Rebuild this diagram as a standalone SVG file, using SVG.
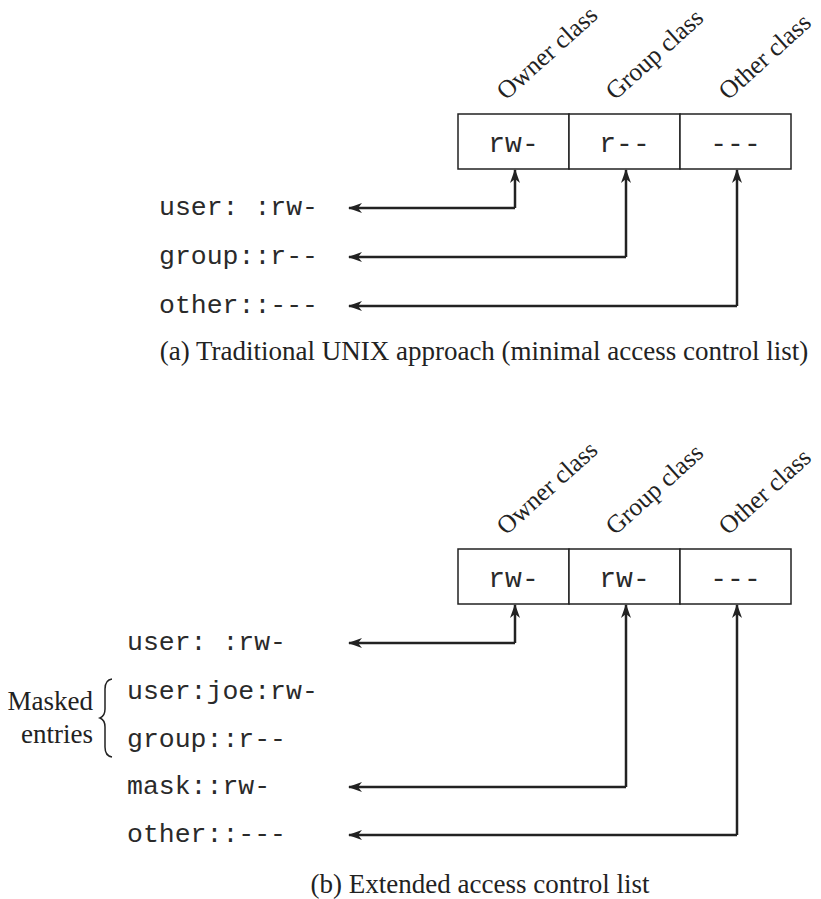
<svg xmlns="http://www.w3.org/2000/svg" width="821" height="899" viewBox="0 0 821 899">
<style>
.mono{font-family:"Liberation Mono","Courier New",monospace;font-size:26.5px;fill:#2a2a2a}
.cell{font-family:"Liberation Mono","Courier New",monospace;font-size:28px;fill:#2a2a2a}
.serif{font-family:"Liberation Serif","Times New Roman",serif;font-size:27px;fill:#222}
.rot{font-family:"Liberation Serif","Times New Roman",serif;font-size:25.5px;fill:#222}
.box{fill:#fff;stroke:#222;stroke-width:1.5}
.conn{fill:none;stroke:#222;stroke-width:2.5}
</style>
<defs>
<marker id="ah" viewBox="0 0 14 10" refX="13" refY="5" markerWidth="14" markerHeight="10" markerUnits="userSpaceOnUse" orient="auto">
<path d="M0,0 L14,5 L0,10 L4,5 Z" fill="#222"/>
</marker>
</defs>
<rect width="821" height="899" fill="#fff"/>

<g id="part-a">
<g id="a-header">
<text class="rot" transform="translate(506,101) rotate(-42)">Owner class</text>
<text class="rot" transform="translate(615,101) rotate(-42)">Group class</text>
<text class="rot" transform="translate(728,101) rotate(-42)">Other class</text>
</g>
<g id="a-box">
<rect class="box" x="458" y="114" width="111" height="55"/>
<rect class="box" x="569" y="114" width="111" height="55"/>
<rect class="box" x="680" y="114" width="111" height="55"/>
<text class="cell" x="513.5" y="152" text-anchor="middle">rw-</text>
<text class="cell" x="624.5" y="152" text-anchor="middle">r--</text>
<text class="cell" x="735.5" y="152" text-anchor="middle">---</text>
</g>
<g id="a-entries">
<text class="mono" x="159" y="215">user: :rw-</text>
<text class="mono" x="159" y="264">group::r--</text>
<text class="mono" x="159" y="313">other::---</text>
</g>
<text id="a-caption" class="serif" x="484" y="360" text-anchor="middle">(a) Traditional UNIX approach (minimal access control list)</text>
</g>

<g id="part-b">
<g id="b-header">
<text class="rot" transform="translate(506,536) rotate(-42)">Owner class</text>
<text class="rot" transform="translate(615,536) rotate(-42)">Group class</text>
<text class="rot" transform="translate(728,536) rotate(-42)">Other class</text>
</g>
<g id="b-box">
<rect class="box" x="458" y="549" width="111" height="55"/>
<rect class="box" x="569" y="549" width="111" height="55"/>
<rect class="box" x="680" y="549" width="111" height="55"/>
<text class="cell" x="513.5" y="587" text-anchor="middle">rw-</text>
<text class="cell" x="624.5" y="587" text-anchor="middle">rw-</text>
<text class="cell" x="735.5" y="587" text-anchor="middle">---</text>
</g>
<g id="b-entries">
<text class="mono" x="127" y="650">user: :rw-</text>
<text class="mono" x="127" y="699">user:joe:rw-</text>
<text class="mono" x="127" y="747">group::r--</text>
<text class="mono" x="127" y="794">mask::rw-</text>
<text class="mono" x="127" y="842">other::---</text>
</g>
<g id="b-masked">
<text class="serif" x="93" y="710" text-anchor="end">Masked</text>
<text class="serif" x="93" y="743" text-anchor="end">entries</text>
<path d="M112,679 Q105,680 105,689 L105,709 Q105,716 100,718 Q105,720 105,727 L105,747 Q105,756 112,757" fill="none" stroke="#222" stroke-width="1.5"/>
</g>
<text id="b-caption" class="serif" x="480" y="893" text-anchor="middle">(b) Extended access control list</text>
</g>

<g id="connectors">
<path class="conn" d="M515,208 L515,170" marker-end="url(#ah)"/>
<path class="conn" d="M515,208 L349,208" marker-end="url(#ah)"/>
<path class="conn" d="M626,257 L626,170" marker-end="url(#ah)"/>
<path class="conn" d="M626,257 L349,257" marker-end="url(#ah)"/>
<path class="conn" d="M737,306 L737,170" marker-end="url(#ah)"/>
<path class="conn" d="M737,306 L349,306" marker-end="url(#ah)"/>

<path class="conn" d="M515,643 L515,605" marker-end="url(#ah)"/>
<path class="conn" d="M515,643 L349,643" marker-end="url(#ah)"/>
<path class="conn" d="M626,787 L626,605" marker-end="url(#ah)"/>
<path class="conn" d="M626,787 L349,787" marker-end="url(#ah)"/>
<path class="conn" d="M737,835 L737,605" marker-end="url(#ah)"/>
<path class="conn" d="M737,835 L349,835" marker-end="url(#ah)"/>
</g>
</svg>
